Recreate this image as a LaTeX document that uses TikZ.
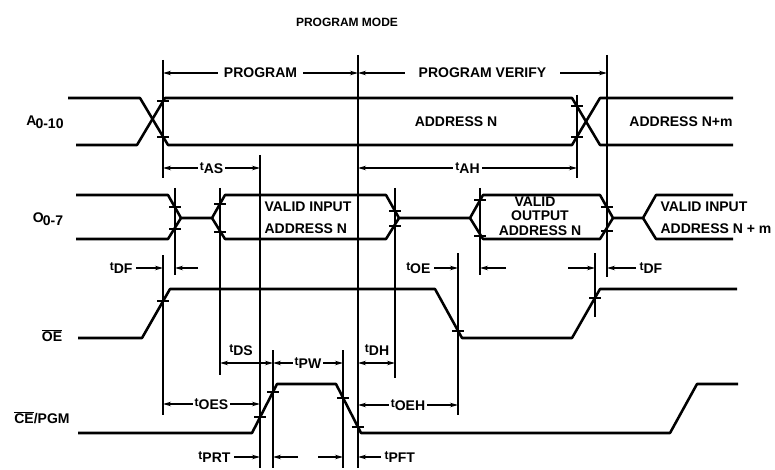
\documentclass[tikz,border=0pt]{standalone}
\usepackage{fontspec}
\setmainfont{Liberation Sans}
\usetikzlibrary{arrows.meta}
\def\tickmark(#1,#2){\draw[line width=0.75mm] ({#1-6},#2) -- ({#1+6},#2);}
\def\tm#1{\raisebox{0.35ex}{\fontsize{12}{13}\selectfont t}#1}

\begin{document}
\begin{tikzpicture}[x=1pt,y=-1pt,font=\fontsize{14}{16}\selectfont\bfseries,
	wave/.style={line width=0.9mm, line join=round},
	guide/.style={line width=0.4mm},
	dim/.style={line width=0.4mm, {Stealth[length=8pt,width=4.5pt]}-{Stealth[length=8pt,width=4.5pt]}},
	arr/.style={line width=0.4mm, -{Stealth[length=8pt,width=4.5pt]}},
	lbl/.style={fill=white, inner sep=2pt}]
			\useasboundingbox (0,0) rectangle (775,470);
			
			%%%%% TITLE %%%%%
			\node[font=\fontsize{12}{14}\selectfont\bfseries] (title) at (347,22) {PROGRAM MODE};
			
			%%%%% SIGNAL NAMES %%%%%
			\node (lblA) at (45,122) {A\kern-1pt\raisebox{-0.4ex}{0-10}};
			\node (lblO) at (48,219) {O\kern-1pt\raisebox{-0.4ex}{0-7}};
			\node (lblOE) at (52,336) {$\overline{\mbox{OE}}$};
			\node (lblCE) at (42,418) {$\overline{\mbox{CE}}$/PGM};
			
			%%%%% GUIDE LINES %%%%%
			\draw[guide] (163,60) -- (163,178);
			\draw[guide] (163,255) -- (163,415);
			\draw[guide] (175,188) -- (175,275);
			\draw[guide] (220,188) -- (220,375);
			\draw[guide] (260,155) -- (260,468);
			\draw[guide] (273,350) -- (273,468);
			\draw[guide] (343,350) -- (343,468);
			\draw[guide] (358,55) -- (358,468);
			\draw[guide] (395,188) -- (395,378);
			\draw[guide] (458,253) -- (458,415);
			\draw[guide] (480,188) -- (480,275);
			\draw[guide] (577,95) -- (577,178);
			\draw[guide] (595,253) -- (595,317);
			\draw[guide] (607,55) -- (607,277);
			
			%%%%% A0-10 %%%%%
			\draw[wave] (68,98) -- (140,98) -- (168,145) -- (572,145) -- (600,98) -- (733,98);
			\draw[wave] (76,145) -- (137,145) -- (165,98) -- (572,98) -- (600,145) -- (733,145);
			\tickmark(163,101.4)
			\tickmark(163,136.6)
			\tickmark(577,106.4)
			\tickmark(577,136.6)
			\node (addrN) at (456,122) {ADDRESS N};
			\node (addrN-m) at (681,122) {ADDRESS N+m};
			
			%%%%% O0-7 %%%%%
			\draw[wave] (76,195) -- (168,195) -- (181,218) -- (212,218) -- (225,195) -- (386,195) -- (399,218) -- (470,218) -- (483,195) -- (600,195) -- (613,218) -- (643,218) -- (656,195) -- (733,195);
			\draw[wave] (76,239) -- (168,239) -- (181,218);
			\draw[wave] (212,218) -- (225,239) -- (386,239) -- (399,218);
			\draw[wave] (470,218) -- (483,239) -- (600,239) -- (613,218);
			\draw[wave] (643,218) -- (656,239) -- (733,239);
			\tickmark(175,207.4)
			\tickmark(175,228.6)
			\tickmark(220,203.8)
			\tickmark(220,232.2)
			\tickmark(395,211)
			\tickmark(395,226)
			\tickmark(480,200.3)
			\tickmark(480,235.7)
			\tickmark(607,207.4)
			\tickmark(607,230.6)
			\node[anchor=west] (vin-a) at (261,207) {VALID INPUT};
			\node[anchor=west] (vin-b) at (261,229) {ADDRESS N};
			\node (vout-a) at (535,202) {VALID};
			\node (vout-b) at (540,216) {OUTPUT};
			\node (vout-c) at (540,231) {ADDRESS N};
			\node[anchor=west] (vinm-a) at (657,207) {VALID INPUT};
			\node[anchor=west] (vinm-b) at (657,229) {ADDRESS N + m};
			
			%%%%% OE %%%%%
			\draw[wave] (78,338) -- (142,338) -- (170,289) -- (435,289) -- (462,338) -- (572,338) -- (600,289) -- (737,289);
			\tickmark(163,301.3)
			\tickmark(458,330.7)
			\tickmark(595,297.8)
			
			%%%%% CE/PGM %%%%%
			\draw[wave] (78,433) -- (252,433) -- (277,384) -- (336,384) -- (361,433) -- (670,433) -- (697,384) -- (738,384);
			\tickmark(260,417.3)
			\tickmark(273,391.8)
			\tickmark(343,397.7)
			\tickmark(358,427.1)
			
			%%%%% TIMING %%%%%
			\draw[dim] (163,73) -- node[lbl, inner xsep=6pt] (prog) {PROGRAM} (358,73);
			\draw[dim] (358,73) -- node[lbl, inner xsep=14pt] (verify) {PROGRAM VERIFY} (607,73);
			\draw[dim] (163,168) -- node[lbl] (tAS) {\tm{AS}} (260,168);
			\draw[dim] (358,168) -- node[lbl, pos=0.5] (tAH) {\tm{AH}} (577,168);
			
			\node[anchor=east] (tDF-l) at (136,268) {\tm{DF}};
			\draw[arr] (tDF-l.east) -- (163,268);
			\draw[arr] (198,268) -- (175,268);
			\node[anchor=east] (tOE) at (434,268) {\tm{OE}};
			\draw[arr] (tOE.east) -- (458,268);
			\draw[arr] (506,268) -- (480,268);
			\draw[arr] (568,268) -- (595,268);
			\node[anchor=west] (tDF-r) at (636,268) {\tm{DF}};
			\draw[arr] (tDF-r.west) -- (607,268);
			
			\node (tDS) at (241,350) {\tm{DS}};
			\draw[dim] (220,363) -- (273,363);
			\draw[dim] (273,363) -- node[lbl] (tPW) {\tm{PW}} (343,363);
			\node (tDH) at (377,350) {\tm{DH}};
			\draw[dim] (358,363) -- (395,363);
			
			\draw[dim] (163,404) -- node[lbl] (tOES) {\tm{OES}} (260,404);
			\draw[dim] (358,405) -- node[lbl] (tOEH) {\tm{OEH}} (458,405);
			
			\node[anchor=east] (tPRT) at (234,457) {\tm{PRT}};
			\draw[arr] (tPRT.east) -- (260,457);
			\draw[arr] (298,457) -- (273,457);
			\draw[arr] (318,457) -- (343,457);
			\node[anchor=west] (tPFT) at (381,457) {\tm{PFT}};
			\draw[arr] (tPFT.west) -- (358,457);
\end{tikzpicture}
\end{document}
